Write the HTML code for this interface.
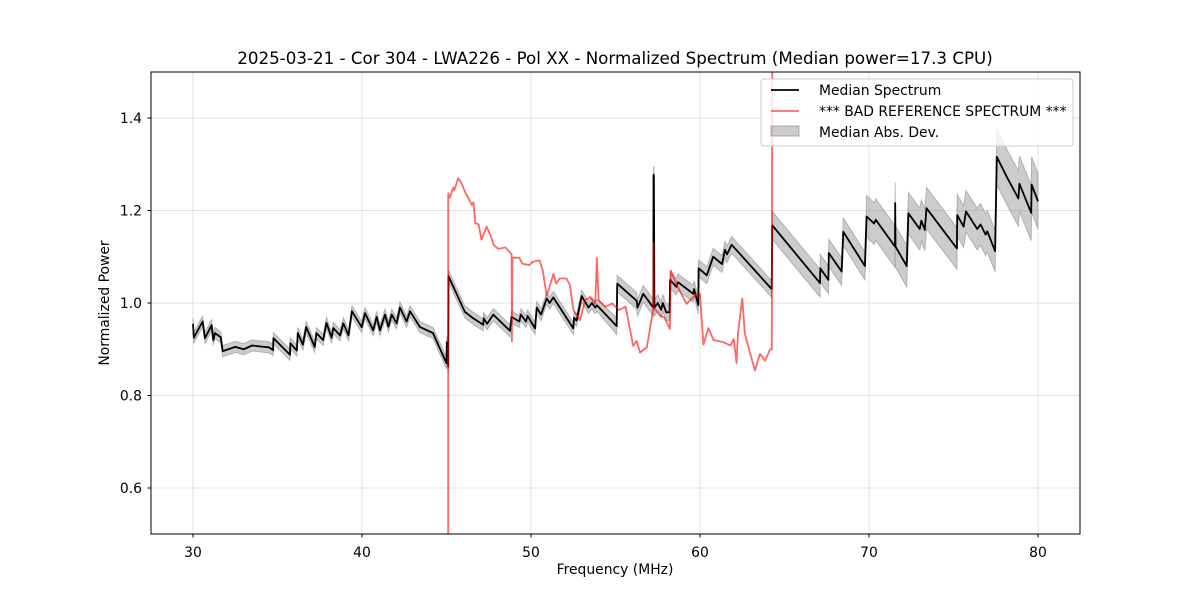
<!DOCTYPE html>
<html><head><meta charset="utf-8"><style>
body{margin:0;background:#fff;}
svg text{font-family:"DejaVu Sans","Liberation Sans",sans-serif;fill:#000;}
</style></head><body>
<svg id="chart" width="1200" height="600" xmlns="http://www.w3.org/2000/svg">
<rect width="1200" height="600" fill="#fff"/>
<text x="615" y="64" font-size="16.7" text-anchor="middle">2025-03-21 - Cor 304 - LWA226 - Pol XX - Normalized Spectrum (Median power=17.3 CPU)</text>
<defs><clipPath id="clip"><rect x="151" y="72" width="929" height="462"/></clipPath></defs>
<g id="grid"></g>
<g id="series" clip-path="url(#clip)"></g>
<rect x="151" y="72" width="929" height="462" fill="none" stroke="#000" stroke-width="1"/>
<g id="ticks"></g>
<text x="615" y="574" font-size="13.9" text-anchor="middle">Frequency (MHz)</text>
<text transform="translate(109,303) rotate(-90)" font-size="13.9" text-anchor="middle">Normalized Power</text>
<g>
<rect x="761" y="79" width="312" height="67" rx="3" fill="#fff" fill-opacity="0.8" stroke="#ccc"/>
<line x1="771" y1="90" x2="799" y2="90" stroke="#000" stroke-width="1.8"/>
<text x="819" y="95" font-size="13.9">Median Spectrum</text>
<line x1="771" y1="111" x2="799" y2="111" stroke="#ff0000" stroke-opacity="0.6" stroke-width="1.8"/>
<text x="819" y="116" font-size="13.9">*** BAD REFERENCE SPECTRUM ***</text>
<rect x="771" y="126" width="28" height="10" fill="#808080" fill-opacity="0.4" stroke="#808080" stroke-opacity="0.6"/>
<text x="819" y="137" font-size="13.9">Median Abs. Dev.</text>
</g>
</svg>
<script>
const xTicks=[30,40,50,60,70,80];
const yTicks=[0.6,0.8,1.0,1.2,1.4];
const medFreq=[30.0,30.05,30.57,30.71,31.1,31.2,31.3,31.64,31.76,32.5,33.0,33.5,34.0,34.5,34.74,34.76,35.74,35.76,36.14,36.2,36.5,36.7,37.2,37.3,37.7,37.9,38.2,38.3,38.7,38.9,39.2,39.4,39.98,40.18,40.66,40.87,41.06,41.36,41.56,41.76,42.05,42.25,42.64,42.84,43.43,44.2,45.0,45.02,45.1,45.12,46.08,46.58,47.17,47.2,47.4,47.77,48.76,48.85,49.3,49.4,49.7,49.8,50.24,50.34,50.6,50.93,51.1,51.32,52.5,52.55,52.7,53.0,53.4,53.6,53.8,53.9,55.07,55.1,56.25,56.3,56.64,57.24,57.25,57.27,57.3,57.5,57.7,57.8,58.0,58.2,58.23,58.6,58.7,59.6,59.65,59.9,59.92,60.4,60.78,61.3,61.48,61.6,61.87,64.24,64.28,67.1,67.12,67.6,67.62,68.38,68.48,69.76,69.86,70.3,70.4,71.54,71.55,71.57,72.23,72.33,73.0,73.1,73.3,73.4,75.2,75.22,75.6,75.74,76.4,76.6,76.9,77.0,77.46,77.56,78.15,78.84,78.9,79.6,79.62,80.0];
const medVal=[0.955,0.925,0.96,0.924,0.952,0.92,0.935,0.926,0.896,0.905,0.900,0.908,0.906,0.904,0.898,0.924,0.888,0.913,0.897,0.935,0.91,0.948,0.905,0.935,0.92,0.957,0.925,0.946,0.93,0.956,0.93,0.982,0.948,0.978,0.941,0.97,0.941,0.975,0.949,0.975,0.956,0.99,0.96,0.982,0.948,0.935,0.87,0.915,0.862,1.058,0.981,0.967,0.953,0.967,0.955,0.975,0.94,0.97,0.96,0.975,0.96,0.972,0.945,0.99,0.975,1.01,1.0,1.012,0.945,0.968,0.962,1.015,0.99,1.0,0.99,0.995,0.95,1.042,1.005,0.99,1.02,0.99,1.277,1.277,0.99,1.0,0.985,1.0,0.98,0.98,1.05,1.035,1.045,1.02,1.03,0.995,1.075,1.06,1.1,1.084,1.115,1.105,1.126,1.03,1.168,1.043,1.075,1.05,1.108,1.068,1.154,1.08,1.187,1.172,1.18,1.122,1.216,1.122,1.08,1.194,1.16,1.178,1.158,1.205,1.118,1.19,1.165,1.198,1.16,1.17,1.148,1.155,1.112,1.316,1.273,1.226,1.258,1.195,1.256,1.22];
const madEdges=[45,55,64.26,69.8,77.5,81];
const madVals=[0.012,0.013,0.018,0.03,0.045,0.06];
const badFreq=[45.1,45.1,45.2,45.4,45.45,45.7,45.9,46.1,46.3,46.5,46.6,46.7,46.9,47.07,47.37,47.6,47.8,48.07,48.5,48.85,48.87,48.9,49.3,49.5,49.9,50.1,50.5,50.7,50.93,51.33,51.5,51.7,52.1,52.3,52.5,52.9,53.2,53.5,53.8,53.9,54.0,54.4,54.8,55.2,55.6,56.05,56.25,56.45,56.85,57.05,57.24,57.25,57.27,57.6,57.9,58.22,58.27,58.6,59.2,59.8,60.0,60.2,60.5,60.8,61.4,61.8,62.0,62.16,62.25,62.5,62.65,62.9,63.25,63.55,63.85,64.15,64.25,64.28];
const badVal=[0.4,1.237,1.228,1.25,1.243,1.27,1.258,1.24,1.226,1.212,1.218,1.173,1.17,1.137,1.165,1.147,1.125,1.117,1.12,1.105,0.917,1.098,1.098,1.085,1.082,1.089,1.092,1.07,1.016,1.063,1.042,1.053,1.053,1.039,0.985,0.963,1.006,1.013,0.998,1.097,1.006,0.992,0.999,0.985,0.992,0.907,0.918,0.893,0.904,0.946,0.99,1.13,0.99,0.975,0.968,0.944,1.07,1.041,0.998,1.02,1.02,0.91,0.946,0.92,0.915,0.908,0.922,0.87,0.935,1.01,0.935,0.9,0.854,0.89,0.875,0.9,0.9,1.6];

const X=f=>193+(f-30)*16.9;
const Y=v=>534.25-(v-0.5)*462.5;
const NS='http://www.w3.org/2000/svg';
function mk(tag,attrs,parent){const e=document.createElementNS(NS,tag);for(const k in attrs)e.setAttribute(k,attrs[k]);parent.appendChild(e);return e;}
function madAt(f){for(let i=0;i<madEdges.length;i++){if(f<madEdges[i])return madVals[i];}return madVals[madVals.length-1];}

const grid=document.getElementById('grid'),ticks=document.getElementById('ticks'),series=document.getElementById('series');
xTicks.forEach(t=>{
  const g=mk('line',{x1:X(t),x2:X(t),y1:72,y2:534,stroke:'#b0b0b0','stroke-opacity':0.35},grid);
  
  
  const tk=mk('line',{x1:X(t),x2:X(t),y1:534,y2:537.5,stroke:'#000'},ticks);
  
  
  const tl=mk('text',{x:X(t),y:557,'font-size':13.9,'text-anchor':'middle'},ticks);
  tl.textContent=t;
  
  
});
yTicks.forEach(t=>{
  const g=mk('line',{x1:151,x2:1080,y1:Y(t),y2:Y(t),stroke:'#b0b0b0','stroke-opacity':0.35},grid);
  
  
  const tk=mk('line',{x1:147.5,x2:151,y1:Y(t),y2:Y(t),stroke:'#000'},ticks);
  
  
  const tl=mk('text',{x:142,y:Y(t)+5,'font-size':13.9,'text-anchor':'end'},ticks);
  tl.textContent=t.toFixed(1);
  
  
});
let up=[],dn=[];
medFreq.forEach((f,i)=>{const m=madAt(f);up.push(X(f).toFixed(1)+','+Y(medVal[i]+m).toFixed(1));dn.push(X(f).toFixed(1)+','+Y(medVal[i]-m).toFixed(1));});
const band=mk('polygon',{points:up.concat(dn.reverse()).join(' '),fill:'#808080','fill-opacity':0.4,stroke:'#808080','stroke-opacity':0.5,'stroke-width':1},series);


const med=mk('polyline',{points:medFreq.map((f,i)=>X(f).toFixed(1)+','+Y(medVal[i]).toFixed(1)).join(' '),fill:'none',stroke:'#000','stroke-width':1.8,'stroke-linejoin':'round'},series);


const bad=mk('polyline',{points:badFreq.map((f,i)=>X(f).toFixed(1)+','+Y(badVal[i]).toFixed(1)).join(' '),fill:'none',stroke:'#ff0000','stroke-opacity':0.6,'stroke-width':1.8,'stroke-linejoin':'round'},series);


</script>
</body></html>
